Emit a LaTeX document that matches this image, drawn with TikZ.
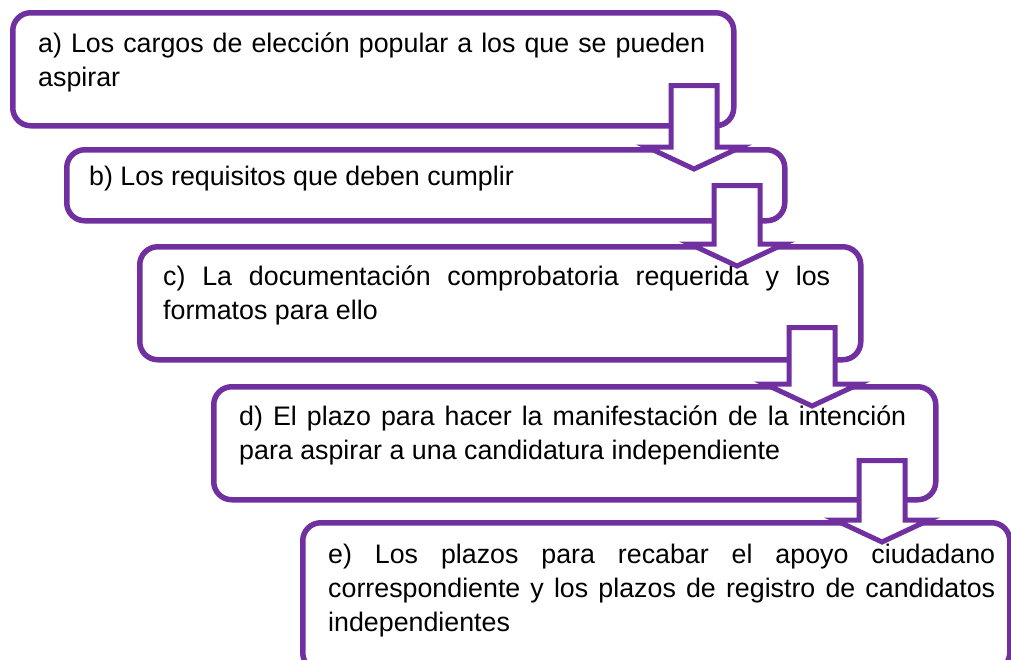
\documentclass[tikz,border=0pt]{standalone}
\usepackage{fontspec}
\setmainfont{Liberation Sans}
\usetikzlibrary{calc}
\definecolor{boxpurple}{HTML}{7030A0}
\tikzset{
  stepbox/.style={draw=boxpurple, fill=white, line width=5.5pt, rounded corners=18pt,
    rectangle, inner sep=0pt, anchor=north west},
  steptext/.style={anchor=base west, inner sep=0pt, text width=667pt, align=justify,
    font=\fontsize{26.8}{34}\selectfont},
  blockarrow/.style={draw=boxpurple, fill=white, line width=5pt, line join=miter}
}
\newcommand\blockarr[4]{% #1 x centre, #2 upper node, #3 lower node, #4 shaft rise
  \draw[blockarrow] let \p1=(#2.south), \p2=(#3.north) in
    (#1-23,\y1+#4) -- (#1+23,\y1+#4) -- (#1+23,\y2) -- (#1+47,\y2)
    -- (#1,\y2-22) -- (#1-47,\y2) -- (#1-23,\y2) -- cycle;}
\hyphenpenalty=10000
\exhyphenpenalty=10000
\tolerance=10000
\begin{document}
\begin{tikzpicture}[x=1pt,y=-1pt]
\useasboundingbox (0,0) rectangle (1011,659);
\clip (0,0) rectangle (1011,659);
% boxes
\node[stepbox, minimum width=721pt, minimum height=113pt] (a) at (10,10) {};
\node[stepbox, minimum width=718pt, minimum height=71pt] (b) at (64,147) {};
\node[stepbox, minimum width=721pt, minimum height=113pt] (c) at (137,244) {};
\node[stepbox, minimum width=722pt, minimum height=113pt] (d) at (211,384) {};
\node[stepbox, minimum width=707pt, minimum height=148pt] (e) at (300,520) {};
% texts
\node[steptext] (ta) at (38,52) {a) Los cargos de elección popular a los que se pueden\linebreak aspirar};
\node[steptext] (tb) at (89,185) {b) Los requisitos que deben cumplir};
\node[steptext] (tc) at (163,285) {c) La documentación comprobatoria requerida y los\linebreak formatos para ello};
\node[steptext] (td) at (239,425) {d) El plazo para hacer la manifestación de la intención\linebreak para aspirar a una candidatura independiente};
\node[steptext] (te) at (328,563) {e) Los plazos para recabar el apoyo ciudadano\linebreak correspondiente y los plazos de registro de candidatos\linebreak independientes};
% arrows
\blockarr{694}{a}{b}{43}
\blockarr{737}{b}{c}{38}
\blockarr{812}{c}{d}{35}
\blockarr{882}{d}{e}{42}
\end{tikzpicture}
\end{document}
